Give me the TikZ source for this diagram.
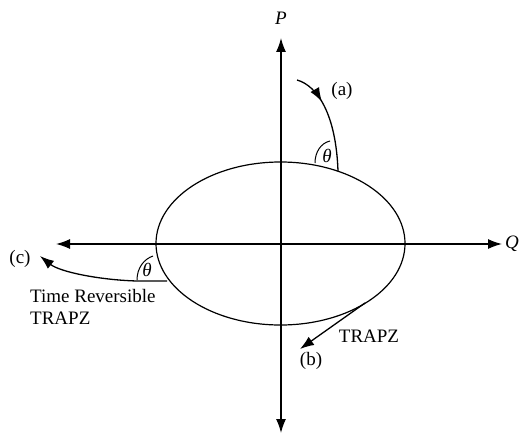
\documentclass[tikz,border=0pt]{standalone}
\usepackage{fontspec}
\setmainfont{Liberation Serif}
\usetikzlibrary{arrows.meta,decorations.markings,shapes.geometric}
\begin{document}
\begin{tikzpicture}[x=1pt,y=-1pt,
  ln/.style={line width=1.3pt},
  tip/.style={-{Latex[length=14pt,width=10pt]}},
  lbl/.style={inner sep=0pt,font=\fontsize{19}{22}\selectfont},
  midtip/.style={decoration={markings,mark=at position #1 with {\arrow{Latex[length=14pt,width=10pt]}}},postaction={decorate}}]
\useasboundingbox (0,0) rectangle (524,436);
% axes
\coordinate (O) at (281,244);
\coordinate (Ptop) at (281,38);
\coordinate (Pbot) at (281,433);
\coordinate (Qleft) at (56,244);
\coordinate (Qright) at (502,244);
\draw[ln,tip] (O) -- (Ptop);
\draw[ln,tip] (O) -- (Pbot);
\draw[ln,tip] (O) -- (Qleft);
\draw[ln,tip] (O) -- (Qright);
\node[lbl] (P) at (281,18) {\itshape P};
\node[lbl] (Q) at (512,244) {\itshape Q};
% ellipse
\node[ellipse,draw,line width=1.2pt,minimum width=249pt,minimum height=163pt,inner sep=0pt] (E) at (280.5,243.5) {};
% (a)
\coordinate (a0) at (297,80);
\coordinate (a1) at (338,171);
\draw[ln,midtip=0.32] (a0) .. controls (318,86) and (336,115) .. (a1);
\node[lbl] (la) at (342,91) {(a)};
\coordinate (ta0) at (315,163);
\coordinate (ta1) at (330,141);
\draw[line width=1pt] (ta0) .. controls (315,152) and (321,143) .. (ta1);
\node[lbl] (tha) at (327,156) {\itshape θ};
% (c)
\coordinate (c0) at (167,281);
\coordinate (c1) at (40,256);
\draw[ln,tip] (c0) -- (137,281) .. controls (100,280) and (60,272) .. (c1);
\node[lbl] (lc) at (20,259) {(c)};
\coordinate (tc0) at (137,280);
\coordinate (tc1) at (153,256);
\draw[line width=1pt] (tc0) .. controls (137,268) and (144,259) .. (tc1);
\node[lbl] (thc) at (147,270) {\itshape θ};
\node[lbl,anchor=west,align=left] (lt) at (30,307) {Time Reversible\\TRAPZ};
% (b)
\coordinate (b0) at (365,303);
\coordinate (b1) at (300,349);
\draw[ln,tip] (b0) -- (b1);
\node[lbl] (lt2) at (369,336) {TRAPZ};
\node[lbl] (lb) at (311,361) {(b)};
\end{tikzpicture}
\end{document}
